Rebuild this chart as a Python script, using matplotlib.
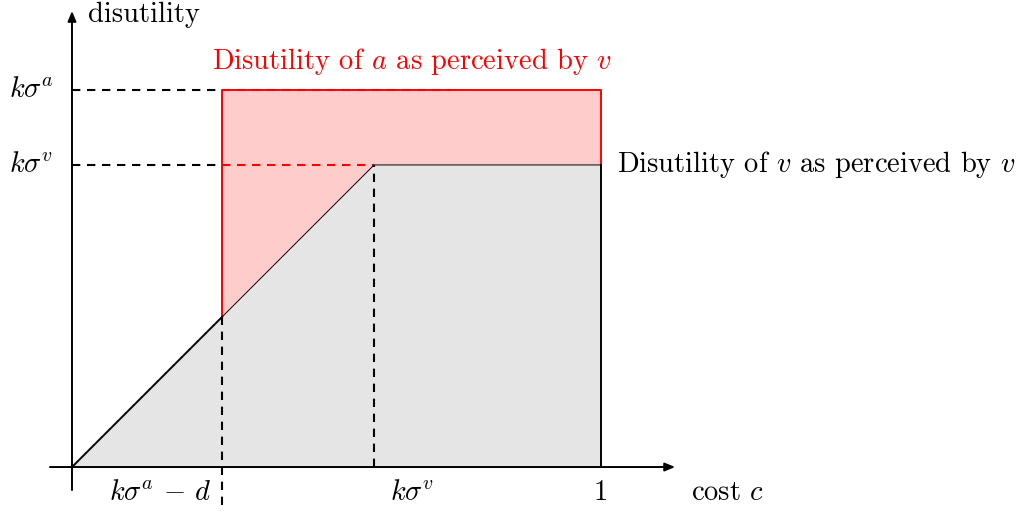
import matplotlib.pyplot as plt
import numpy as np

plt.rcParams['font.family'] = ['cmr10', 'DejaVu Serif']
plt.rcParams['mathtext.fontset'] = 'cm'
plt.rcParams['axes.unicode_minus'] = False

# valores del esquema (en unidades, costo 1 = ancho total)
ksa_d = 0.284   # k sigma^a - d
ksv = 0.571     # k sigma^v
ksa = 0.713     # k sigma^a
c_max = 1.0

x_labels = [r'$k\sigma^a\,-\,d$', r'$k\sigma^v$', '1']
y_labels = [r'$k\sigma^a$', r'$k\sigma^v$']

rojo = '#ff0000'
gris = '#e5e5e5'
rosa = '#ffcccc'

fig = plt.figure(figsize=(10.31, 5.14), dpi=100)
ax = fig.add_axes([0, 0, 1, 1])
ax.set_xlim(-0.1361, 1.8129)
ax.set_ylim(-0.0888, 0.8828)
ax.axis('off')

# area gris: min(c, ksv) de 0 a 1
xs = np.array([0, ksv, c_max])
ys = np.minimum(xs, ksv)
ax.fill_between(xs, 0, ys, color=gris, lw=0, zorder=1)

# area roja entre ksa y la curva
xr = np.array([ksa_d, ksv, c_max])
yr = np.minimum(xr, ksv)
ax.fill_between(xr, yr, ksa, color=rosa, lw=0, zorder=1)

# guiones
dd = (4, 3.2)
ax.plot([0, 0.716], [ksa, ksa], 'k--', lw=1.5, dashes=dd, zorder=2)
ax.plot([0, ksa_d], [ksv, ksv], 'k--', lw=1.5, dashes=dd, zorder=2)
ax.plot([ksa_d, ksv], [ksv, ksv], '--', color=rojo, lw=1.5, dashes=dd, zorder=3)
ax.plot([ksa_d, ksa_d], [-0.072, ksa_d], 'k--', lw=1.5, dashes=dd, zorder=3)
ax.plot([ksv, ksv], [0, ksv], 'k--', lw=1.5, dashes=dd, zorder=3)

# bordes
ax.plot([ksa_d, ksa_d, c_max, c_max], [ksa_d, ksa, ksa, ksv], color=rojo, lw=1.4, zorder=4)
ax.plot([0, ksa_d], [0, ksa_d], 'k', lw=1.4, zorder=4)
ax.plot([ksa_d, ksv, c_max], [ksa_d, ksv, ksv], 'k', lw=0.7, zorder=4)
ax.plot([c_max, c_max], [ksv, 0], 'k', lw=1.4, zorder=4)

# ejes con flechas
ax.annotate('', xy=(1.14, 0), xytext=(-0.0416, 0),
            arrowprops=dict(arrowstyle='-|>,head_length=0.6,head_width=0.25', color='k', lw=1.4,
                            shrinkA=0, shrinkB=0), zorder=5)
ax.annotate('', xy=(0, 0.862), xytext=(0, -0.0435),
            arrowprops=dict(arrowstyle='-|>,head_length=0.6,head_width=0.25', color='k', lw=1.4,
                            shrinkA=0, shrinkB=0), zorder=5)

fs = 20.5
ax.text(0.03, 0.855, 'disutility', fontsize=fs, ha='left', va='center')
ax.text(1.17, -0.048, r'cost $c$', fontsize=fs, ha='left', va='center')
for xv, lab in zip([ksa_d - 0.117, ksv + 0.072, c_max], x_labels):
    ax.text(xv, -0.048, lab, fontsize=fs, ha='center', va='center')
for yv, lab in zip([ksa, ksv], y_labels):
    ax.text(-0.035, yv, lab, fontsize=fs, ha='right', va='center')

ax.text(0.642, 0.766, r'Disutility of $a$ as perceived by $v$', fontsize=fs,
        color=rojo, ha='center', va='center')
ax.text(1.03, ksv, r'Disutility of $v$ as perceived by $v$', fontsize=fs,
        ha='left', va='center')

fig.savefig('out.png', dpi=100)
